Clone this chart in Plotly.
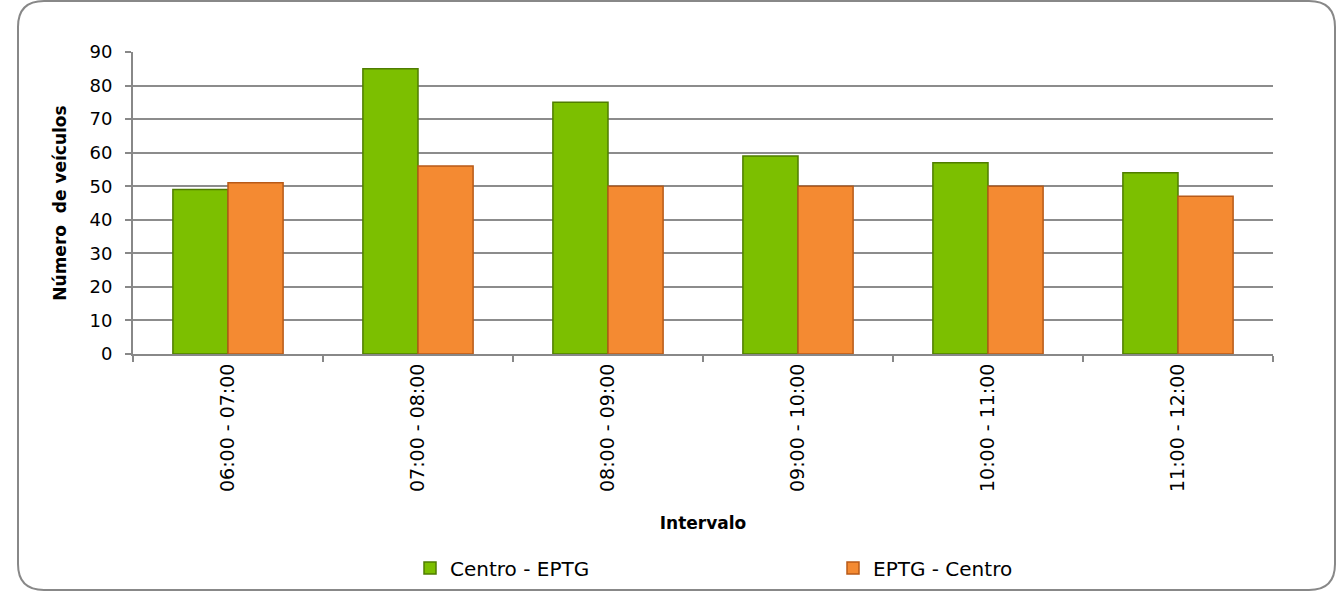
import plotly.graph_objects as go

categories = ["06:00 - 07:00", "07:00 - 08:00", "08:00 - 09:00", "09:00 - 10:00", "10:00 - 11:00", "11:00 - 12:00"]
centro_eptg = [49, 85, 75, 59, 57, 54]
eptg_centro = [51, 56, 50, 50, 50, 47]
series_names = ["Centro - EPTG", "EPTG - Centro"]

W, H = 1344, 592
L, R, T, B = 133, 1273, 52, 354

def px2paper(px, py):
    return (px - L) / (R - L), (B - py) / (B - T)

fig = go.Figure()
fig.add_trace(go.Bar(x=categories, y=centro_eptg, name=series_names[0], legend="legend", showlegend=True,
                     marker=dict(color="#7CBF00", line=dict(color="#4F7D00", width=1.5))))
fig.add_trace(go.Bar(x=categories, y=eptg_centro, name=series_names[1], legend="legend2", showlegend=True,
                     marker=dict(color="#F48A32", line=dict(color="#B85A18", width=1.5))))

# rounded border path
x0, x1, y0, y1, r = 18, 1335, 1, 590, 26
def P(px, py):
    a, b = px2paper(px, py)
    return f"{a:.5f},{b:.5f}"
path = (f"M {P(x0+r, y0)} L {P(x1-r, y0)} Q {P(x1, y0)} {P(x1, y0+r)} "
        f"L {P(x1, y1-r)} Q {P(x1, y1)} {P(x1-r, y1)} "
        f"L {P(x0+r, y1)} Q {P(x0, y1)} {P(x0, y1-r)} "
        f"L {P(x0, y0+r)} Q {P(x0, y0)} {P(x0+r, y0)} Z")

font = "'DejaVu Sans', sans-serif"
leg_common = dict(orientation="h", yanchor="middle", xanchor="left", y=(B - 568) / (B - T),
                  font=dict(size=20), itemwidth=30, bgcolor="rgba(0,0,0,0)")
fig.update_layout(
    width=W, height=H,
    showlegend=True,
    margin=dict(l=L, r=W - R, t=T, b=H - B, autoexpand=False),
    paper_bgcolor="white", plot_bgcolor="white",
    barmode="group", bargap=0.42, bargroupgap=0,
    font=dict(family=font, size=17, color="#000000"),
    shapes=[dict(type="path", path=path, xref="paper", yref="paper",
                 line=dict(color="#888888", width=2), fillcolor="rgba(0,0,0,0)", layer="below")],
    legend=dict(x=(410 - L) / (R - L), **leg_common),
    legend2=dict(x=(833 - L) / (R - L), **leg_common),
    xaxis=dict(
        title=dict(text="<b>Intervalo</b>", font=dict(size=17), standoff=26),
        tickangle=-90, tickfont=dict(size=19),
        showline=True, linecolor="#888888", linewidth=2,
        ticks="outside", tickson="boundaries", ticklen=6, tickcolor="#888888", tickwidth=2,
        showgrid=False,
    ),
    yaxis=dict(
        title=dict(text="<b>Número  de veículos</b>", font=dict(size=17), standoff=19),
        range=[0, 90], dtick=10, tickfont=dict(size=18), ticklabelstandoff=9,
        showline=True, linecolor="#888888", linewidth=2,
        ticks="outside", ticklen=6, tickcolor="#888888", tickwidth=2,
        showgrid=True, gridcolor="#8C8C8C", gridwidth=2, zeroline=False,
    ),
)

fig.write_html("out.html", config={"displayModeBar": False},
               post_script="document.body.style.margin='0';")
